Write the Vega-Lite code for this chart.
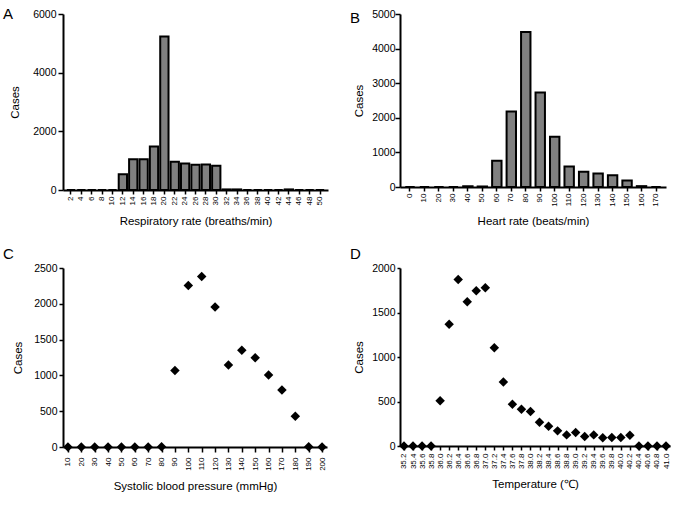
{
  "$schema": "https://vega.github.io/schema/vega-lite/v6.json",
  "background": "white",
  "padding": {"left": 3, "top": 7, "right": 5, "bottom": 5},
  "datasets": {
    "rr": [
      {"rate": 2, "cases": 0}, {"rate": 4, "cases": 0}, {"rate": 6, "cases": 0}, {"rate": 8, "cases": 0},
      {"rate": 10, "cases": 0}, {"rate": 12, "cases": 540}, {"rate": 14, "cases": 1050}, {"rate": 16, "cases": 1050},
      {"rate": 18, "cases": 1480}, {"rate": 20, "cases": 5230}, {"rate": 22, "cases": 960}, {"rate": 24, "cases": 900},
      {"rate": 26, "cases": 860}, {"rate": 28, "cases": 870}, {"rate": 30, "cases": 830}, {"rate": 32, "cases": 20},
      {"rate": 34, "cases": 20}, {"rate": 36, "cases": 0}, {"rate": 38, "cases": 0}, {"rate": 40, "cases": 0},
      {"rate": 42, "cases": 0}, {"rate": 44, "cases": 20}, {"rate": 46, "cases": 0}, {"rate": 48, "cases": 0},
      {"rate": 50, "cases": 0}
    ],
    "hr": [
      {"rate": 0, "cases": 0}, {"rate": 10, "cases": 0}, {"rate": 20, "cases": 0}, {"rate": 30, "cases": 0},
      {"rate": 40, "cases": 20}, {"rate": 50, "cases": 15}, {"rate": 60, "cases": 760}, {"rate": 70, "cases": 2180},
      {"rate": 80, "cases": 4480}, {"rate": 90, "cases": 2730}, {"rate": 100, "cases": 1450}, {"rate": 110, "cases": 590},
      {"rate": 120, "cases": 440}, {"rate": 130, "cases": 390}, {"rate": 140, "cases": 340}, {"rate": 150, "cases": 190},
      {"rate": 160, "cases": 25}, {"rate": 170, "cases": 0}
    ],
    "sbp": [
      {"bp": 10, "cases": 0}, {"bp": 20, "cases": 0}, {"bp": 30, "cases": 0}, {"bp": 40, "cases": 0},
      {"bp": 50, "cases": 0}, {"bp": 60, "cases": 0}, {"bp": 70, "cases": 0}, {"bp": 80, "cases": 5},
      {"bp": 90, "cases": 1070}, {"bp": 100, "cases": 2255}, {"bp": 110, "cases": 2380}, {"bp": 120, "cases": 1955},
      {"bp": 130, "cases": 1145}, {"bp": 140, "cases": 1350}, {"bp": 150, "cases": 1245}, {"bp": 160, "cases": 1005},
      {"bp": 170, "cases": 795}, {"bp": 180, "cases": 430}, {"bp": 190, "cases": 5}, {"bp": 200, "cases": 0}
    ],
    "temp": [
      {"t": "35.2", "cases": 0}, {"t": "35.4", "cases": 0}, {"t": "35.6", "cases": 0}, {"t": "35.8", "cases": 0},
      {"t": "36.0", "cases": 509}, {"t": "36.2", "cases": 1369}, {"t": "36.4", "cases": 1871}, {"t": "36.6", "cases": 1620},
      {"t": "36.8", "cases": 1745}, {"t": "37.0", "cases": 1779}, {"t": "37.2", "cases": 1103}, {"t": "37.4", "cases": 720},
      {"t": "37.6", "cases": 469}, {"t": "37.8", "cases": 413}, {"t": "38.0", "cases": 387}, {"t": "38.2", "cases": 266},
      {"t": "38.4", "cases": 221}, {"t": "38.6", "cases": 170}, {"t": "38.8", "cases": 125}, {"t": "39.0", "cases": 151},
      {"t": "39.2", "cases": 107}, {"t": "39.4", "cases": 125}, {"t": "39.6", "cases": 92}, {"t": "39.8", "cases": 96},
      {"t": "40.0", "cases": 96}, {"t": "40.2", "cases": 122}, {"t": "40.4", "cases": 0}, {"t": "40.6", "cases": 0},
      {"t": "40.8", "cases": 0}, {"t": "41.0", "cases": 0}
    ]
  },
  "columns": 2,
  "spacing": {"row": 19, "column": 22},
  "concat": [
    {
      "width": 265, "height": 176,
      "title": {"text": "A", "dx": -60, "dy": 17},
      "data": {"name": "rr"},
      "mark": {"type": "bar", "fill": "#808080", "stroke": "black", "strokeWidth": 2},
      "encoding": {
        "x": {"field": "rate", "type": "ordinal", "title": "Respiratory rate (breaths/min)",
              "scale": {"paddingInner": 0.2, "paddingOuter": 0.37},
              "axis": {"titlePadding": 11}},
        "y": {"field": "cases", "type": "quantitative", "title": "Cases",
              "scale": {"domain": [0, 6000], "nice": false},
              "axis": {"values": [0, 2000, 4000, 6000], "format": "d", "tickSize": 5, "labelPadding": 2, "titlePadding": 12}}
      }
    },
    {
      "width": 266, "height": 173,
      "title": {"text": "B", "dx": -50, "dy": 21},
      "data": {"name": "hr"},
      "mark": {"type": "bar", "fill": "#808080", "stroke": "black", "strokeWidth": 2},
      "encoding": {
        "x": {"field": "rate", "type": "ordinal", "title": "Heart rate (beats/min)",
              "scale": {"paddingInner": 0.35, "paddingOuter": 0.366},
              "axis": {"titlePadding": 9}},
        "y": {"field": "cases", "type": "quantitative", "title": "Cases",
              "scale": {"domain": [0, 5000], "nice": false},
              "axis": {"values": [0, 1000, 2000, 3000, 4000, 5000], "format": "d", "tickSize": 5, "labelPadding": 0, "titlePadding": 7}}
      }
    },
    {
      "width": 264, "height": 179,
      "title": {"text": "C", "dx": -60, "dy": 3},
      "data": {"name": "sbp"},
      "mark": {"type": "point", "shape": "diamond", "filled": true, "color": "black", "size": 90, "opacity": 1},
      "encoding": {
        "x": {"field": "bp", "type": "ordinal", "title": "Systolic blood pressure (mmHg)",
              "scale": {"type": "point", "padding": 0.37},
              "axis": {"tickSize": 5, "labelPadding": 5, "titlePadding": 10}},
        "y": {"field": "cases", "type": "quantitative", "title": "Cases",
              "scale": {"domain": [0, 2500], "nice": false},
              "axis": {"values": [0, 500, 1000, 1500, 2000, 2500], "format": "d", "tickSize": 4, "labelPadding": 2, "titlePadding": 10}}
      }
    },
    {
      "width": 270, "height": 178,
      "title": {"text": "D", "dx": -50, "dy": 3},
      "data": {"name": "temp"},
      "mark": {"type": "point", "shape": "diamond", "filled": true, "color": "black", "size": 90, "opacity": 1},
      "encoding": {
        "x": {"field": "t", "type": "ordinal", "title": "Temperature (℃)",
              "scale": {"type": "point", "padding": 0.44},
              "axis": {"tickSize": 4, "labelPadding": 3, "titlePadding": 10}},
        "y": {"field": "cases", "type": "quantitative", "title": "Cases",
              "scale": {"domain": [0, 2000], "nice": false},
              "axis": {"values": [0, 500, 1000, 1500, 2000], "format": "d", "tickSize": 3, "labelPadding": 2, "titlePadding": 7}}
      }
    }
  ],
  "config": {
    "view": {"stroke": null},
    "font": "Liberation Sans",
    "axis": {
      "domainColor": "black", "domainWidth": 2, "tickColor": "black", "tickWidth": 1.5, "tickSize": 4,
      "labelColor": "black", "labelFontSize": 10.5, "titleFontSize": 11.5, "titleFontWeight": "normal",
      "titleColor": "black", "grid": false, "labelPadding": 2
    },
    "axisX": {"labelAngle": -90, "labelFontSize": 8, "titlePadding": 8, "labelBaseline": "middle", "labelAlign": "right"},
    "title": {"fontSize": 15, "fontWeight": "normal", "anchor": "start", "frame": "group", "offset": 0, "color": "black", "baseline": "alphabetic"}
  }
}
